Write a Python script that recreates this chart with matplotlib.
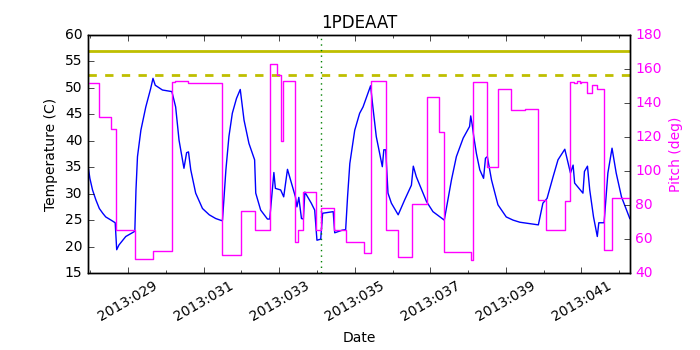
"""1PDEAAT temperature vs pitch, day-of-year axis."""

import matplotlib

matplotlib.use("Agg")
import matplotlib.pyplot as plt
from matplotlib.ticker import FuncFormatter, MultipleLocator

plt.style.use("classic")
plt.rcParams["font.size"] = 10

# temperature trace (day of year 2013, deg C)
temp_day = [
    27.955, 27.99, 28.06, 28.15, 28.24, 28.33, 28.41, 28.55, 28.66, 28.70,
    28.76, 28.94, 29.16, 29.18, 29.21, 29.25, 29.34, 29.47, 29.60, 29.66,
    29.72, 29.91, 30.16, 30.26, 30.35, 30.48, 30.55, 30.60, 30.66, 30.79,
    30.97, 31.15, 31.32, 31.48, 31.50, 31.59, 31.67, 31.76, 31.87, 31.97,
    32.07, 32.20, 32.35, 32.38, 32.51, 32.69, 32.75, 32.86, 32.90, 33.04,
    33.12, 33.22, 33.43, 33.47, 33.52, 33.59, 33.64, 33.68, 33.85, 33.94,
    34.00, 34.10, 34.15, 34.43, 34.47, 34.67, 34.76, 34.81, 34.87, 35.00,
    35.13, 35.22, 35.42, 35.48, 35.57, 35.73, 35.77, 35.82, 35.88, 35.97,
    36.15, 36.32, 36.50, 36.55, 36.63, 36.81, 36.90, 37.07, 37.37, 37.56,
    37.69, 37.87, 38.04, 38.07, 38.11, 38.15, 38.22, 38.31, 38.41, 38.46,
    38.51, 38.62, 38.79, 39.01, 39.19, 39.37, 39.86, 39.98, 40.09, 40.25,
    40.38, 40.56, 40.71, 40.78, 40.82, 41.04, 41.08, 41.16, 41.22, 41.32,
    41.42, 41.46, 41.60, 41.70, 41.81, 41.92, 42.06, 42.28,
]
temp_val = [
    34.6, 32.9, 30.7, 28.8, 27.2, 26.3, 25.6, 25.0, 24.5, 19.4,
    20.3, 21.9, 22.8, 23.0, 30.7, 37.0, 42.0, 46.4, 49.9, 51.8,
    50.5, 49.6, 49.3, 46.4, 40.1, 34.8, 37.75, 37.9, 34.5, 30.1,
    27.2, 26.0, 25.3, 24.9, 25.0, 34.5, 40.8, 45.2, 48.0, 49.7,
    43.9, 39.5, 36.4, 30.1, 26.9, 25.2, 25.2, 34.0, 31.0, 30.7,
    29.4, 34.6, 29.4, 27.5, 29.3, 25.3, 25.2, 30.3, 28.2, 26.9,
    21.2, 21.4, 26.3, 26.6, 22.6, 23.1, 23.2, 29.4, 35.7, 42.0,
    45.2, 46.4, 50.4, 46.4, 40.8, 35.1, 38.3, 38.3, 30.1, 28.2,
    26.0, 28.8, 31.6, 35.2, 33.2, 30.1, 28.5, 26.6, 25.0, 32.6,
    37.0, 40.5, 42.7, 44.7, 43.0, 40.8, 37.6, 34.5, 32.9, 36.7,
    37.0, 32.6, 27.9, 25.6, 25.0, 24.6, 24.1, 28.2, 29.1, 33.2,
    36.4, 38.4, 33.9, 35.4, 32.0, 30.1, 34.2, 35.2, 30.7, 25.6,
    21.9, 24.5, 24.5, 33.9, 38.6, 33.9, 29.4, 25.3,
]

# pitch trace, step changes (day of year, deg)
pitch_day = [
    27.955, 28.22, 28.54, 28.69, 29.18, 29.66, 30.16, 30.23, 30.60, 31.49,
    31.98, 32.36, 32.76, 32.95, 33.04, 33.09, 33.43, 33.50, 33.62, 33.97,
    34.12, 34.44, 34.76, 35.25, 35.44, 35.84, 36.15, 36.52, 36.90, 37.23,
    37.36, 38.09, 38.13, 38.51, 38.78, 39.13, 39.50, 39.86, 40.07, 40.56,
    40.71, 40.80, 40.88, 40.95, 41.00, 41.16, 41.29, 41.42, 41.61, 41.81,
    42.28,
]
pitch_val = [
    151.6, 131.6, 124.5, 65.3, 48.0, 52.9, 152.5, 153.1, 151.6, 50.6,
    76.5, 65.3, 162.8, 156.5, 117.9, 153.1, 58.0, 65.3, 87.6, 65.3,
    78.4, 65.3, 58.0, 51.6, 153.1, 65.3, 49.2, 80.6, 143.3, 123.1,
    52.4, 47.6, 152.5, 102.5, 148.4, 136.1, 136.7, 82.7, 65.1, 82.4,
    152.5, 151.5, 152.8, 151.8, 152.5, 145.7, 150.4, 148.0, 53.5, 84.1,
    84.1,
]

planning_limit = 57.0
caution_limit = 52.5
now_day = 34.1

fig = plt.figure(figsize=(7, 3.5), dpi=100, facecolor="white")
ax1 = fig.add_axes([0.1257, 0.22, 0.774, 0.68])
ax1.plot(temp_day, temp_val, color="#0000ff", lw=1)
ax1.axhline(planning_limit, color=(0.75, 0.75, 0), lw=2)
ax1.axhline(caution_limit, color=(0.75, 0.75, 0), lw=2, ls="--")
ax1.axvline(now_day, color="g", ls=":", lw=1)
ax1.set_xlim(27.94, 42.28)
ax1.set_ylim(15, 60)
ax1.set_ylabel("Temperature (C)")
ax1.set_xlabel("Date")
ax1.set_title("1PDEAAT")
ax1.xaxis.set_major_locator(MultipleLocator(2, offset=1))
ax1.xaxis.set_minor_locator(MultipleLocator(1))
ax1.xaxis.set_major_formatter(FuncFormatter(lambda d, _: "2013:%03d" % round(d)))
for lbl in ax1.get_xticklabels():
    lbl.set_rotation(30)

ax2 = ax1.twinx()
ax2.plot(pitch_day, pitch_val, color="#ff00ff", lw=1, drawstyle="steps-post")
ax2.set_ylim(40, 180)
ax2.set_ylabel("Pitch (deg)", color="#ff00ff")
ax2.tick_params(axis="y", labelcolor="#ff00ff")
ax2.set_xlim(27.94, 42.28)

fig.savefig("out.png", dpi=100, facecolor="white")
